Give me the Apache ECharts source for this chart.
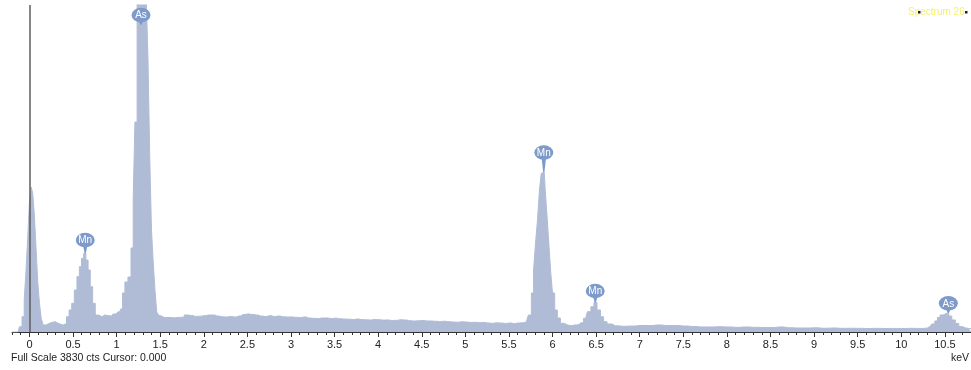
<!DOCTYPE html>
<html>
<head>
<meta charset="utf-8">
<title>Spectrum 26</title>
<script src="https://cdn.jsdelivr.net/npm/echarts@6/dist/echarts.min.js"></script>
<style>
  html, body { margin: 0; padding: 0; background: #ffffff; }
  #chart { width: 971px; height: 370px; }
</style>
</head>
<body>
<div id="chart"></div>
<script>
// EDS spectrum: channel energy (keV) and counts per channel
const energyKeV = [
  -0.20, -0.13, -0.10, -0.07, -0.05, -0.03, -0.01, 0.01, 0.03, 0.045, 0.065, 0.085, 0.105, 0.125, 0.145, 0.17,
  0.21, 0.25, 0.28, 0.31, 0.35, 0.38, 0.41, 0.44, 0.47, 0.50, 0.53, 0.56, 0.585, 0.61, 0.635, 0.66, 0.685, 0.71,
  0.74, 0.77, 0.81, 0.86, 0.90, 0.94, 0.98, 1.00, 1.03, 1.055, 1.08, 1.11, 1.15, 1.18, 1.20, 1.22, 1.25, 1.27,
  1.29, 1.31, 1.33, 1.35, 1.37, 1.39, 1.41, 1.43, 1.45, 1.47, 1.49,
  1.50, 1.55, 1.60, 1.65, 1.70, 1.75, 1.80, 1.85, 1.90, 1.95, 2.00, 2.05, 2.10, 2.15, 2.20, 2.25, 2.30, 2.35,
  2.40, 2.45, 2.50, 2.55, 2.60, 2.65, 2.70, 2.75, 2.80, 2.85, 2.90, 2.95, 3.00, 3.05, 3.10, 3.15, 3.20, 3.25,
  3.30, 3.35, 3.40, 3.45, 3.50, 3.55, 3.60, 3.65, 3.70, 3.75, 3.80, 3.85, 3.90, 3.95, 4.00, 4.05, 4.10, 4.15,
  4.20, 4.25, 4.30, 4.35, 4.40, 4.45, 4.50, 4.55, 4.60, 4.65, 4.70, 4.75, 4.80, 4.85, 4.90, 4.95, 5.00, 5.05,
  5.10, 5.15, 5.20, 5.25, 5.30, 5.35, 5.40, 5.45, 5.50, 5.55, 5.60, 5.65,
  5.70, 5.745, 5.77, 5.795, 5.815, 5.84, 5.86, 5.88, 5.905, 5.93, 5.95, 5.97, 5.99, 6.01, 6.04, 6.07, 6.11,
  6.15, 6.20, 6.25, 6.30, 6.33, 6.38, 6.42, 6.46, 6.49, 6.53, 6.57, 6.60, 6.65, 6.72,
  6.80, 6.90, 7.00, 7.10, 7.20, 7.30, 7.40, 7.50, 7.60, 7.70, 7.80, 7.90, 8.00, 8.10, 8.20, 8.30, 8.40, 8.50,
  8.60, 8.70, 8.80, 8.90, 9.00, 9.10, 9.20, 9.30, 9.40, 9.50, 9.60, 9.70, 9.80, 9.90, 10.00, 10.10, 10.20, 10.30,
  10.33, 10.37, 10.40, 10.43, 10.46, 10.50, 10.53, 10.56, 10.60, 10.64, 10.68, 10.72, 10.76, 10.80
];
const countsCts = [
  0, 0, 62, 179, 375, 706, 1097, 1522, 1698, 1624, 1390, 999, 589, 336, 160, 82,
  102, 115, 121, 102, 88, 82, 102, 179, 258, 336, 492, 648, 765, 863, 922, 843, 726, 530,
  336, 199, 179, 199, 193, 187, 211, 234, 240, 269, 457, 586, 644, 984, 1546, 2459, 3950, 4800,
  5200, 4700, 4200, 3900, 3185, 2049, 1194, 808, 492, 234, 199,
  182, 170, 170, 167, 171, 173, 199, 193, 183, 185, 191, 199, 199, 187, 179, 176, 182, 176,
  187, 205, 211, 205, 199, 187, 182, 191, 182, 187, 179, 176, 176, 172, 170, 176, 164, 160,
  158, 164, 164, 158, 162, 155, 152, 150, 146, 152, 146, 143, 141, 146, 144, 140, 141, 135,
  137, 143, 141, 133, 129, 132, 135, 130, 129, 125, 123, 126, 121, 117, 115, 119, 117, 112,
  114, 110, 111, 106, 102, 107, 105, 101, 105, 100, 105, 108,
  121, 199, 457, 726, 1042, 1312, 1663, 1858, 1870, 1643, 1312, 999, 691, 457, 258, 164, 102,
  82, 76, 82, 88, 109, 160, 238, 296, 345, 258, 179, 121, 94, 72,
  67, 70, 76, 76, 82, 76, 76, 70, 64, 59, 59, 62, 59, 55, 59, 55, 53, 53,
  59, 50, 47, 47, 49, 44, 47, 43, 44, 43, 41, 43, 41, 42, 41, 43, 42, 47,
  64, 94, 129, 170, 199, 217, 222, 187, 141, 100, 64, 47, 41, 41
];

// Identified element lines
const peakNames = ['Mn', 'As', 'Mn', 'Mn', 'As'];
const peakEnergies = [0.64, 1.28, 5.90, 6.49, 10.54];
const peakCounts = [922, 5200, 1870, 345, 222];
const badgeCounts = [1077, 3712, 2102, 480, 336];

// Axis ticks (keV)
const majorTicks = [0, 0.5, 1, 1.5, 2, 2.5, 3, 3.5, 4, 4.5, 5, 5.5, 6, 6.5, 7, 7.5, 8, 8.5, 9, 9.5, 10, 10.5];
const energyMin = -0.2;
const energyMax = 10.8;
const minorStep = 0.1;

const fullScale = 3830;
const cursorKeV = 0;
const spectrumName = 'Spectrum 26';

const fillColor = '#b0bcd6';
const badgeColor = '#7d9acb';
const inkColor = '#222222';
const uiFont = '"Liberation Sans", Arial, sans-serif';

const chart = echarts.init(document.getElementById('chart'), null, { renderer: 'canvas' });

const grid = { left: 12, right: 0, top: 5, bottom: 38 };

chart.setOption({
  animation: false,
  backgroundColor: '#ffffff',
  grid: grid,
  xAxis: [
    {
      type: 'value',
      min: energyMin,
      max: energyMax,
      position: 'bottom',
      axisLine: { show: true, onZero: false, lineStyle: { color: '#333333', width: 1 } },
      axisTick: { show: true, length: 5, customValues: majorTicks, lineStyle: { color: '#333333' } },
      axisLabel: {
        show: true, customValues: majorTicks, margin: 7,
        color: inkColor, fontSize: 11, fontFamily: uiFont,
        formatter: v => String(v)
      },
      splitLine: { show: false }
    },
    {
      type: 'value',
      min: energyMin,
      max: energyMax,
      interval: minorStep,
      position: 'bottom',
      axisLine: { show: false, onZero: false },
      axisTick: { show: true, length: 3, lineStyle: { color: '#333333' } },
      axisLabel: { show: false },
      splitLine: { show: false }
    }
  ],
  yAxis: {
    type: 'value',
    min: 0,
    max: fullScale,
    show: false,
    splitLine: { show: false }
  },
  series: [
    {
      type: 'line',
      step: 'middle',
      xAxisIndex: 0,
      symbol: 'none',
      clip: true,
      silent: true,
      z: 2,
      lineStyle: { color: fillColor, width: 1 },
      areaStyle: { color: fillColor, opacity: 1 },
      data: energyKeV.map((e, i) => [e, countsCts[i]]),
      markLine: {
        silent: true,
        symbol: 'none',
        label: { show: false },
        lineStyle: { color: '#5e5e5e', width: 1.5, type: 'solid' },
        data: [{ xAxis: cursorKeV }]
      }
    },
    {
      type: 'custom',
      coordinateSystem: 'cartesian2d',
      xAxisIndex: 0,
      clip: false,
      silent: true,
      z: 10,
      data: peakEnergies.map((e, i) => [e, badgeCounts[i], peakCounts[i]]),
      renderItem: function (params, api) {
        const e = api.value(0);
        const badge = api.coord([e, api.value(1)]);
        const tip = api.coord([e, Math.min(api.value(2), fullScale)]);
        const rx = 9.5, ry = 7.2;
        const stemTop = badge[1] + ry - 1.5;
        const stemBottom = Math.max(tip[1], stemTop + 4);
        return {
          type: 'group',
          children: [
            {
              type: 'polygon',
              shape: { points: [[badge[0] - 2.2, stemTop], [badge[0] + 2.2, stemTop], [badge[0] + 0.6, stemBottom], [badge[0] - 0.6, stemBottom]] },
              style: { fill: badgeColor }
            },
            {
              type: 'circle',
              x: badge[0], y: badge[1],
              scaleY: ry / rx,
              shape: { cx: 0, cy: 0, r: rx },
              style: { fill: badgeColor }
            },
            {
              type: 'text',
              x: badge[0], y: badge[1] + 0.5,
              style: {
                text: peakNames[params.dataIndex],
                fill: '#ffffff',
                font: '10px ' + uiFont,
                align: 'center',
                verticalAlign: 'middle'
              }
            }
          ]
        };
      }
    }
  ],
  graphic: [
    {
      type: 'text', left: 11, top: 353,
      style: { text: 'Full Scale ' + fullScale + ' cts Cursor: ' + cursorKeV.toFixed(3), fill: inkColor, font: '10.5px ' + uiFont }
    },
    {
      type: 'text', right: 2, top: 353,
      style: { text: 'keV', fill: inkColor, font: '10.5px ' + uiFont }
    },
    {
      type: 'text', left: 908, top: 7,
      style: { text: spectrumName, fill: '#f6f06e', font: '10px ' + uiFont }
    },
    { type: 'rect', left: 918, top: 11, shape: { width: 2.5, height: 2.5 }, style: { fill: '#1c1c3a' } },
    { type: 'rect', left: 965, top: 11, shape: { width: 2.5, height: 2.5 }, style: { fill: '#1c1c3a' } }
  ]
});
</script>
</body>
</html>
